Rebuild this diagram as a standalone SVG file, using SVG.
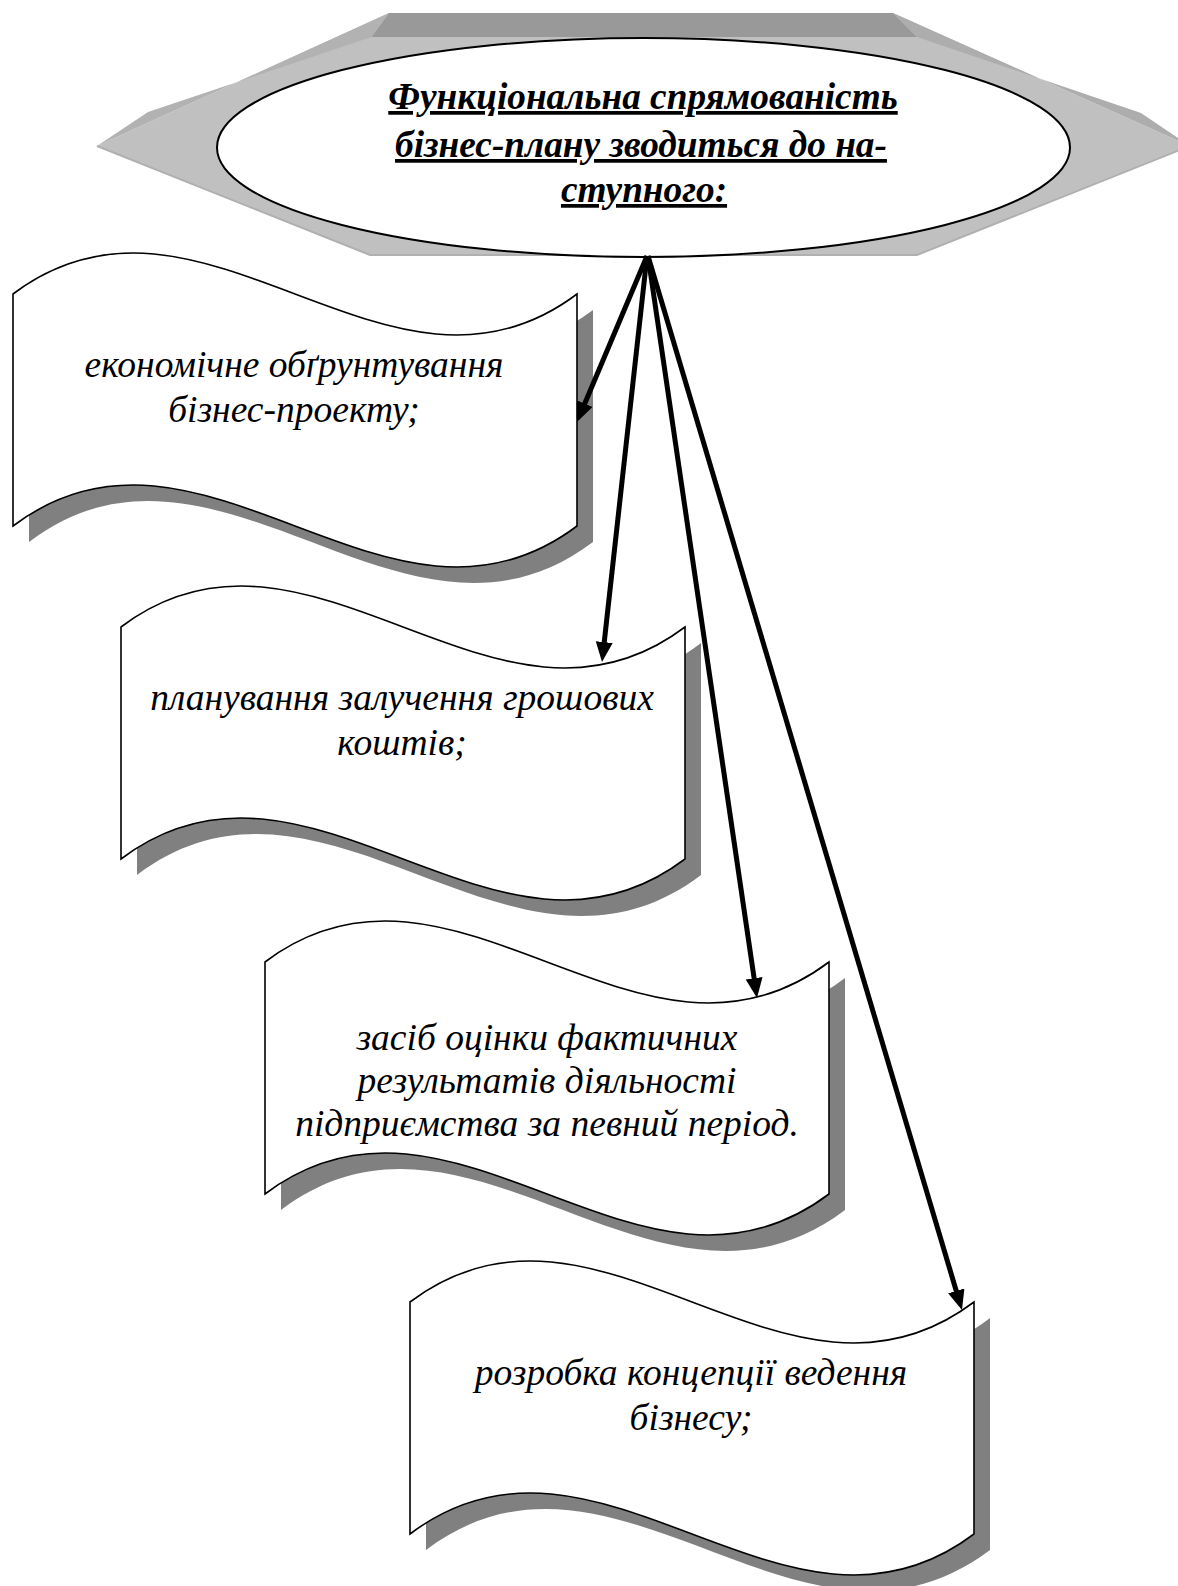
<svg xmlns="http://www.w3.org/2000/svg" xmlns:xlink="http://www.w3.org/1999/xlink" width="1178" height="1586" viewBox="0 0 1178 1586">
<style>
.shadow{fill:#808080;stroke:none}
.wave{fill:#ffffff;stroke:#000000;stroke-width:1.6}
.txt{font-family:"Liberation Serif","Times New Roman",serif;font-style:italic;font-size:37.5px;fill:#000000;text-anchor:middle}
.title{font-family:"Liberation Serif","Times New Roman",serif;font-style:italic;font-weight:bold;font-size:37.3px;fill:#000000;text-anchor:middle;text-decoration:underline}
.conn{stroke:#000000;stroke-width:5;fill:none;marker-end:url(#arrow)}
</style>
<defs>
<path id="waveShape" d="M0,0 C188,-142 376,142 564,0 L564,232 C376,374 188,90 0,232 Z"/>
<marker id="arrow" markerUnits="userSpaceOnUse" markerWidth="22" markerHeight="18" refX="4" refY="8.5" orient="auto" viewBox="0 0 22 18">
<path d="M0,0 L20,8.5 L0,17 Z" fill="#000000"/>
</marker>
</defs>
<rect width="1178" height="1586" fill="#ffffff"/>

<g id="header">
<polygon points="97,146 389,13 893,13 1190,146 917,255 370,255" fill="#c0c0c0"/>
<polygon points="389,13 893,13 917,37 371.5,37" fill="#999999"/>
<polygon points="97,146 389,13 371.5,37 148,112" fill="#b2b2b2"/>
<polygon points="893,13 1190,146 1141,113 917,37" fill="#adadad"/>
<polyline points="97,146 370,255 917,255 1190,146" fill="none" stroke="#b0b0b0" stroke-width="2"/>
<ellipse cx="643.5" cy="147.5" rx="426.5" ry="109.5" fill="#ffffff" stroke="#000000" stroke-width="2"/>
<text class="title" x="643" y="109">Функціональна спрямованість</text>
<text class="title" x="641" y="157">бізнес-плану зводиться до на-</text>
<text class="title" x="644" y="202">ступного:</text>
</g>

<g id="box1">
<use xlink:href="#waveShape" class="shadow" x="29" y="310"/>
<use xlink:href="#waveShape" class="wave" x="13" y="294"/>
<text class="txt" x="294" y="377">економічне обґрунтування</text>
<text class="txt" x="294" y="422">бізнес-проекту;</text>
</g>

<g id="box2">
<use xlink:href="#waveShape" class="shadow" x="137" y="643"/>
<use xlink:href="#waveShape" class="wave" x="121" y="627"/>
<text class="txt" x="402" y="710">планування залучення грошових</text>
<text class="txt" x="402" y="755">коштів;</text>
</g>

<g id="box3">
<use xlink:href="#waveShape" class="shadow" x="281" y="978"/>
<use xlink:href="#waveShape" class="wave" x="265" y="962"/>
<text class="txt" x="547" y="1050">засіб оцінки фактичних</text>
<text class="txt" x="547" y="1093">результатів діяльності</text>
<text class="txt" x="547" y="1136">підприємства за певний період.</text>
</g>

<g id="box4">
<use xlink:href="#waveShape" class="shadow" x="426" y="1318"/>
<use xlink:href="#waveShape" class="wave" x="410" y="1302"/>
<text class="txt" x="691" y="1385">розробка концепції ведення</text>
<text class="txt" x="691" y="1430">бізнесу;</text>
</g>

<g id="connectors">
<line class="conn" x1="647" y1="256" x2="583.2" y2="407.3"/>
<line class="conn" x1="647" y1="256" x2="603.8" y2="646.1"/>
<line class="conn" x1="648" y1="256" x2="754.7" y2="982.2"/>
<line class="conn" x1="648" y1="256" x2="957.4" y2="1294.7"/>
</g>
</svg>
